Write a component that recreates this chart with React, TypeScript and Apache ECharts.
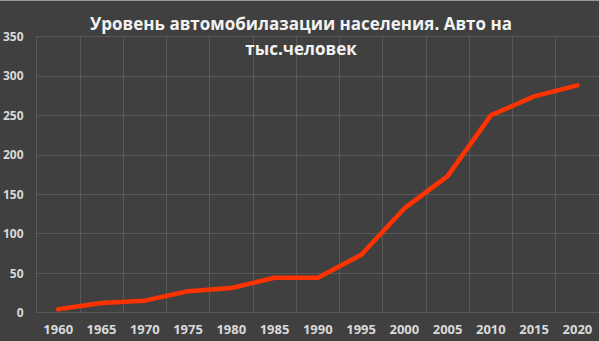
import React, { useEffect, useRef } from "react";
import * as echarts from "echarts";

const titleText = "Уровень автомобилазации населения. Авто на\nтыс.человек";
const years = ["1960", "1965", "1970", "1975", "1980", "1985", "1990", "1995", "2000", "2005", "2010", "2015", "2020"];
const carsPerThousand = [4, 12, 15, 27, 31, 44, 44, 73, 132, 173, 250, 274, 288];
const yTicks = { min: 0, max: 350, interval: 50 };

export default function App() {
  const ref = useRef<HTMLDivElement>(null);
  useEffect(() => {
    if (!ref.current) return;
    const chart = echarts.init(ref.current, null, { renderer: "svg" });
    chart.setOption({
      animation: false,
      backgroundColor: "#404040",
      textStyle: { fontFamily: "Open Sans" },
      title: {
        text: titleText,
        left: 296,
        textAlign: "center",
        top: 6,
        textStyle: {
          color: "#f2f2f2",
          fontSize: 17,
          fontWeight: "bold",
          fontFamily: "Open Sans",
          lineHeight: 25,
        },
      },
      grid: { left: 35.5, top: 36.5, width: 567, height: 276, containLabel: false },
      xAxis: {
        type: "category",
        data: years,
        boundaryGap: true,
        axisLine: { show: false },
        axisTick: { show: false },
        axisLabel: { color: "#d9d9d9", fontSize: 13, fontWeight: "bold", margin: 10, interval: 0, fontFamily: "Open Sans" },
        splitLine: { show: true, interval: 0, lineStyle: { color: "#595959", width: 1 } },
      },
      yAxis: {
        type: "value",
        min: yTicks.min,
        max: yTicks.max,
        interval: yTicks.interval,
        axisLine: { show: false },
        axisTick: { show: false },
        axisLabel: { color: "#d9d9d9", fontSize: 12, fontWeight: "bold", margin: 13, fontFamily: "Open Sans" },
        splitLine: { show: true, lineStyle: { color: "#595959", width: 1 } },
      },
      series: [
        {
          type: "line",
          data: carsPerThousand,
          symbol: "none",
          lineStyle: { color: "#ff3300", width: 4.5, cap: "round", join: "round" },
        },
      ],
      graphic: [
        { type: "rect", shape: { x: 0, y: 0, width: 599, height: 1 }, style: { fill: "#9a9a9a" }, silent: true },
      ],
    });
    return () => chart.dispose();
  }, []);
  return <div ref={ref} style={{ position: "fixed", left: 0, top: 0, width: 599, height: 341 }} />;
}
